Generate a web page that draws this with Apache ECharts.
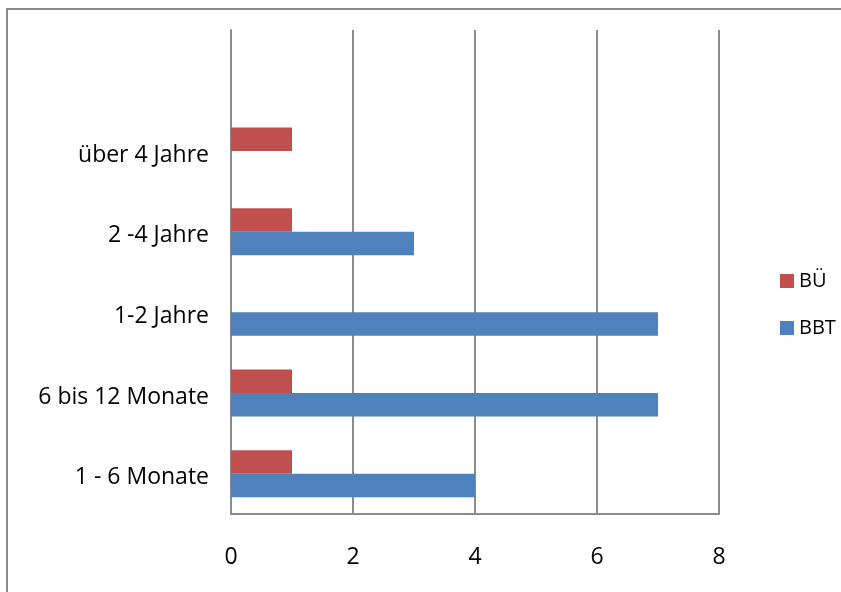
<!DOCTYPE html>
<html>
<head>
<meta charset="utf-8">
<script src="https://cdn.jsdelivr.net/npm/echarts@6/dist/echarts.min.js"></script>
<style>
  html, body { margin: 0; padding: 0; background: #fff; }
  #chart { width: 841px; height: 592px; }
</style>
</head>
<body>
<div id="chart"></div>
<script>
// Duration categories, bottom to top (top slot left empty)
const categories = ['1 - 6 Monate', '6 bis 12 Monate', '1-2 Jahre', '2 -4 Jahre', 'über 4 Jahre', ''];
const valuesBBT = [4, 7, 7, 3, 0, null];
const valuesBU = [1, 1, 0, 1, 1, null];
const xTicks = [0, 2, 4, 6, 8];

const FONT = 'Open Sans';
const GRID_GRAY = '#8c8c8c';

const chart = echarts.init(document.getElementById('chart'), null, { renderer: 'canvas' });

chart.setOption({
  backgroundColor: '#ffffff',
  animation: false,
  textStyle: { fontFamily: FONT },
  graphic: [{
    type: 'rect',
    shape: { x: 7, y: 9, width: 900, height: 700 },
    style: { fill: 'none', stroke: '#8a8a8a', lineWidth: 2 },
    silent: true
  }],
  grid: { left: 231, right: 122, top: 30, bottom: 78, containLabel: false },
  legend: {
    orient: 'vertical',
    left: 775,
    top: 266,
    itemWidth: 14,
    itemHeight: 14,
    itemGap: 27,
    icon: 'rect',
    data: ['BÜ', 'BBT'],
    textStyle: { fontFamily: FONT, fontSize: 20, color: '#000' }
  },
  xAxis: {
    type: 'value',
    min: xTicks[0],
    max: xTicks[xTicks.length - 1],
    interval: 2,
    axisLine: { show: true, lineStyle: { color: GRID_GRAY, width: 2 } },
    axisTick: { show: false },
    axisLabel: {
      fontFamily: FONT, fontSize: 23, color: '#000', margin: 32,
      formatter: v => xTicks.includes(v) ? String(v) : ''
    },
    splitLine: { show: true, lineStyle: { color: GRID_GRAY, width: 2 } }
  },
  yAxis: {
    type: 'category',
    data: categories,
    axisLine: { show: true, lineStyle: { color: GRID_GRAY, width: 2 } },
    axisTick: { show: false },
    axisLabel: {
      margin: 22,
      formatter: v => v ? '{c|' + v + '}' : '',
      rich: {
        c: { fontFamily: FONT, fontSize: 23, color: '#000', padding: [8, 0, 0, 0] }
      }
    }
  },
  series: [
    {
      name: 'BÜ',
      type: 'bar',
      data: valuesBU,
      barWidth: 23.5,
      barGap: '0%',
      itemStyle: { color: '#C0504D' }
    },
    {
      name: 'BBT',
      type: 'bar',
      data: valuesBBT,
      barWidth: 23.5,
      barGap: '0%',
      itemStyle: { color: '#4F81BD' }
    }
  ]
});
</script>
</body>
</html>
